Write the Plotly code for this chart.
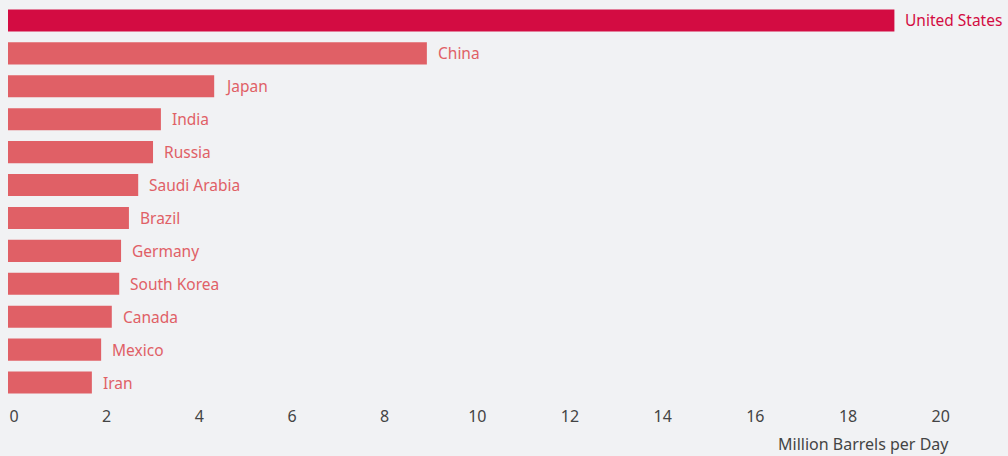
import plotly.graph_objects as go

countries = ["United States", "China", "Japan", "India", "Russia", "Saudi Arabia",
             "Brazil", "Germany", "South Korea", "Canada", "Mexico", "Iran"]
consumption = [19.13, 9.04, 4.45, 3.30, 3.13, 2.81, 2.61, 2.44, 2.40, 2.24, 2.01, 1.81]
tick_vals = [0, 2, 4, 6, 8, 10, 12, 14, 16, 18, 20]

highlight = "#d30c42"
base = "#e06066"
bg = "#f1f2f4"
colors = [highlight if c == "United States" else base for c in countries]

fig = go.Figure()
fig.add_trace(go.Bar(
    x=consumption,
    y=countries,
    orientation="h",
    marker=dict(color=colors, line=dict(width=0)),
    hoverinfo="x+y",
))

# country labels to the right of each bar
for c, v, col in zip(countries, consumption, colors):
    fig.add_annotation(
        x=v, y=c, text=c, showarrow=False,
        xanchor="left", xshift=9,
        font=dict(size=15.5, color=col, family="Noto Sans"),
    )

fig.add_annotation(
    xref="paper", yref="paper", x=0.962, y=-0.115,
    text="Million Barrels per Day", showarrow=False,
    xanchor="right", yanchor="middle",
    font=dict(size=16, color="#444444", family="Noto Sans"),
)

fig.update_layout(
    width=1008, height=456,
    plot_bgcolor=bg, paper_bgcolor=bg,
    margin=dict(l=8, r=20, t=4, b=57),
    bargap=0.33,
    showlegend=False,
    font=dict(family="Noto Sans", color="#444444"),
)
fig.update_xaxes(
    range=[0, 21.15], tickvals=tick_vals, showgrid=False, zeroline=False,
    showline=False, ticks="", tickfont=dict(size=16, color="#444444"),
    ticklabelshift=6, ticklabelstandoff=6,
)
fig.update_yaxes(
    categoryorder="array", categoryarray=countries[::-1],
    showticklabels=False, showgrid=False, zeroline=False, showline=False, ticks="",
)

fig.write_html(
    "out.html",
    config={"displayModeBar": False},
    post_script="document.body.style.margin='0';document.body.style.background='%s';" % bg,
)
